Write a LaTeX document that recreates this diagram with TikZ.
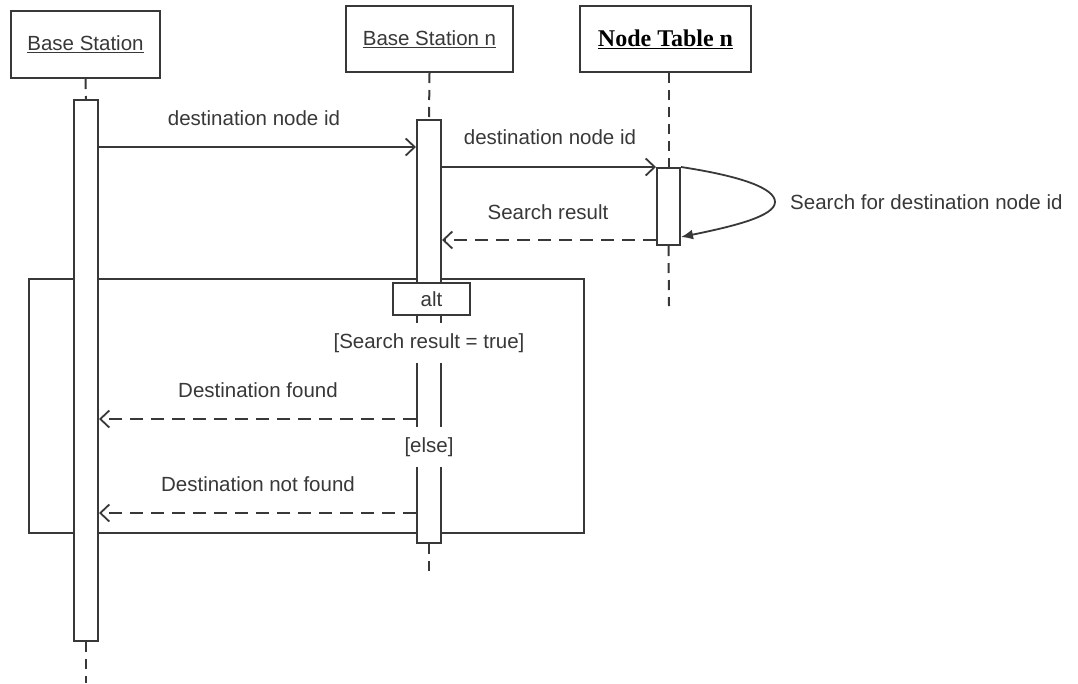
\documentclass[tikz,border=0pt]{standalone}
\usepackage{fontspec}
\setmainfont{Liberation Sans}
\newfontfamily\headserif{Liberation Serif}
\usetikzlibrary{arrows.meta}
\definecolor{ink}{HTML}{383838}
\tikzset{
  txt/.style={text=ink, font=\fontsize{20.5}{24}\selectfont, inner sep=0pt},
  head/.style={draw=ink, line width=2pt, fill=white, inner sep=0pt, text=ink,
               font=\fontsize{20.5}{24}\selectfont},
  lifeline/.style={draw=ink, line width=2pt, dash pattern=on 10pt off 7pt},
  bar/.style={draw=ink, line width=2pt, fill=white, minimum width=24pt, inner sep=0pt},
  msg/.style={draw=ink, line width=1.8pt,
              -{Straight Barb[length=9pt,width=17pt,line width=1.8pt]}},
  reply/.style={msg, dash pattern=on 13pt off 8pt},
  guard/.style={txt, fill=white, inner ysep=10pt, inner xsep=3pt},
  frame/.style={draw=ink, line width=2pt, inner sep=0pt},
}
\begin{document}
\begin{tikzpicture}[x=1pt,y=-1pt]
\useasboundingbox (0,0) rectangle (1078,683);

% combined fragment
\node[frame, minimum width=555pt, minimum height=254pt, anchor=north west] (altframe) at (28,278) {};

% participants
\node[head, minimum width=149pt, minimum height=67pt] (bs) at (85.5,44.5) {\underline{Base Station}};
\node[head, minimum width=167pt, minimum height=66pt] (bsn) at (429.5,39) {\underline{Base Station n}};
\node[head, minimum width=171pt, minimum height=66pt, text=black,
      font=\headserif\bfseries\fontsize{24}{28}\selectfont] (nt) at (665.5,39) {\underline{Node Table n}};

% free ends of the lifelines
\coordinate (bsEnd) at (86,683);
\coordinate (bsnEnd) at (429,576);
\coordinate (ntEnd) at (669,306);

% activation bars
\node[bar, minimum height=541pt, anchor=north] (barA) at (86,99) {};
\node[bar, minimum height=423pt, anchor=north] (barB) at (429,119) {};
\node[bar, minimum height=77pt, minimum width=23pt, anchor=north] (barC) at (668.5,167) {};

% lifelines
\draw[lifeline] (bs.south) -- (barA.north);
\draw[lifeline] (barA.south) -- (bsEnd);
\draw[lifeline] (bsn.south) -- (barB.north);
\draw[lifeline] (barB.south) -- (bsnEnd);
\draw[lifeline] (nt.south -| barC.north) -- (barC.north);
\draw[lifeline] (barC.south) -- (ntEnd);

% operand labels and fragment tag
\node[draw=ink, line width=2pt, fill=white, minimum width=77pt, minimum height=32pt,
      anchor=north west, txt] (tag) at (392,282) {alt};
\node[guard] (g1) at (429,343) {[Search result = true]};
\node[guard] (g2) at (429,447) {[else]};

% messages
\draw[msg] (barA.east |- 0,147) -- (barB.west |- 0,147);
\node[txt] (l1) at (254,118) {destination node id};

\draw[msg] (barB.east |- 0,167) -- (barC.west |- 0,167);
\node[txt] (l2) at (550,137) {destination node id};

\draw[reply] (barC.west |- 0,240) -- (barB.east |- 0,240);
\node[txt] (l3) at (548,212) {Search result};

\draw[draw=ink, line width=1.8pt, -{Latex[length=12pt,width=10pt]}]
  (barC.east |- 0,167) .. controls (740,176) and (775,188) .. (775,202)
  .. controls (775,216) and (735,226) .. (barC.east |- 0,237);
\node[txt, anchor=west] (l4) at (790,202) {Search for destination node id};

\draw[reply] (barB.west |- 0,419) -- (barA.east |- 0,419);
\node[txt] (l5) at (258,390) {Destination found};

\draw[reply] (barB.west |- 0,513) -- (barA.east |- 0,513);
\node[txt] (l6) at (258,484) {Destination not found};
\end{tikzpicture}
\end{document}
